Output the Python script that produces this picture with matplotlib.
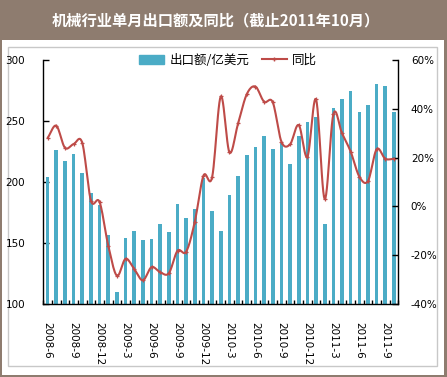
import numpy as np
import matplotlib
matplotlib.use("Agg")
import matplotlib.pyplot as plt
from matplotlib.patches import Rectangle
from matplotlib.lines import Line2D
from matplotlib.ticker import FuncFormatter, FixedLocator

plt.rcParams['font.family'] = ['DejaVu Sans', 'Noto Sans CJK SC']

# ---------------- data ----------------
months = []
for y in range(2008, 2012):
    for m in range(1, 13):
        if (y, m) >= (2008, 6) and (y, m) <= (2011, 10):
            months.append(f"{y}-{m}")

export_value = [204, 226, 217, 223, 207.5, 191, 181, 156.6, 110, 154,
                160, 152.5, 153.6, 165.6, 159, 182, 170.5, 177.8, 203, 176.5,
                160, 189.3, 204.8, 222, 228.5, 237.4, 226.8, 232.3, 214.8, 237.4,
                248.9, 253.2, 165.6, 260.3, 267.9, 274.4, 257, 262.8, 279.9, 278.3,
                257]
yoy_pct = [28, 33, 24, 25.5, 26, 2.4, 1.8, -16, -28.3, -21.4,
           -25.6, -30.2, -24.8, -26.9, -27.3, -18.1, -18.5, -6.2, 12.6, 12.0,
           45, 22.1, 34, 45.9, 49, 42.8, 42.6, 26.5, 25.4, 33.3,
           20.3, 43.8, 3.0, 37.7, 29.9, 22.4, 12.2, 10.4, 23.4, 19.5,
           19.5]
title = "机械行业单月出口额及同比（截止2011年10月）"
bar_label = "出口额/亿美元"
line_label = "同比"

# ---------------- figure ----------------
W, H = 447, 377
dpi = 100
fig = plt.figure(figsize=(W / dpi, H / dpi), dpi=dpi)
taupe = "#8E7C6F"
fig.patch.set_facecolor(taupe)

def px_rect(x0, y0, x1, y1, **kw):
    return Rectangle((x0 / W, 1 - y1 / H), (x1 - x0) / W, (y1 - y0) / H,
                     transform=fig.transFigure, **kw)

fig.patches.append(px_rect(2, 40, 444, 375, facecolor="white", edgecolor="none", zorder=-10))
fig.patches.append(px_rect(8, 47, 437, 366, facecolor="none", edgecolor="#C8C8C8", lw=1.0, zorder=-9))

fig.text(216 / W, 1 - 20 / H, title, color="white", fontsize=11, fontweight="bold",
         ha="center", va="center", family=['Noto Sans CJK SC', 'DejaVu Sans'])

left, right = 43.3, 398.3
top, bottom = 59.7, 304.3
ax = fig.add_axes([left / W, 1 - bottom / H, (right - left) / W, (bottom - top) / H])
ax.set_facecolor("none")
ax2 = ax.twinx()

x = np.arange(len(months))
bar_color = "#4BACC6"
line_color = "#BE4B48"

ax.bar(x, export_value, width=0.42, color=bar_color, zorder=2)
ax.set_xlim(-0.5, len(months) - 0.5)
ax.set_ylim(100, 300)
ax.set_yticks([100, 150, 200, 250, 300])

# smooth curve (Catmull-Rom) through the data points
def smooth(xs, ys, n=12):
    xs = np.asarray(xs, float); ys = np.asarray(ys, float)
    px = np.concatenate([[2 * xs[0] - xs[1]], xs, [2 * xs[-1] - xs[-2]]])
    py = np.concatenate([[2 * ys[0] - ys[1]], ys, [2 * ys[-1] - ys[-2]]])
    ox, oy = [], []
    t = np.linspace(0, 1, n, endpoint=False)
    for i in range(1, len(px) - 2):
        for arr, out in ((px, ox), (py, oy)):
            p0, p1, p2, p3 = arr[i - 1], arr[i], arr[i + 1], arr[i + 2]
            out.extend(0.5 * ((2 * p1) + (-p0 + p2) * t + (2 * p0 - 5 * p1 + 4 * p2 - p3) * t ** 2
                              + (-p0 + 3 * p1 - 3 * p2 + p3) * t ** 3))
    ox.append(xs[-1]); oy.append(ys[-1])
    return np.array(ox), np.array(oy)

yoy = np.array(yoy_pct) / 100.0
sx, sy = smooth(x, yoy)
ax2.plot(sx, sy, color=line_color, lw=1.5, zorder=3, solid_capstyle="round")
ax2.plot(x, yoy, ls="none", marker="+", ms=3.5, mew=0.9, color=line_color, zorder=4)
ax2.set_ylim(-0.4, 0.6)
ax2.set_yticks([-0.4, -0.2, 0, 0.2, 0.4, 0.6])
ax2.yaxis.set_major_formatter(FuncFormatter(lambda v, p: f"{int(round(v * 100))}%"))

# ticks / spines
for a in (ax, ax2):
    a.spines["top"].set_visible(False)
    for s in a.spines.values():
        s.set_color("black")
        s.set_linewidth(1.0)
ax2.spines["left"].set_visible(False)
ax2.spines["bottom"].set_visible(False)
ax.spines["right"].set_visible(False)

ax.tick_params(axis="y", direction="in", length=4, width=1, labelsize=7.5, pad=13)
ax2.tick_params(axis="y", direction="in", length=4, width=1, labelsize=7.5, pad=9)

label_pos = [i for i in range(len(months)) if i % 3 == 0]
ax.set_xticks(label_pos)
ax.set_xticklabels([months[i] for i in label_pos], rotation=-90, fontsize=7.5)
ax.tick_params(axis="x", which="major", length=0, pad=13)
ax.xaxis.set_minor_locator(FixedLocator(np.arange(-0.5, len(months), 1.0)))
ax.tick_params(axis="x", which="minor", direction="in", length=3, width=1)
for lab in ax.get_xticklabels():
    lab.set_va("top")
    lab.set_ha("center")

handles = [Rectangle((0, 0), 1, 1, color=bar_color),
           Line2D([0], [0], color=line_color, lw=1.5, marker="+", ms=3.5)]
fig.legend(handles, [bar_label, line_label], loc="center",
           bbox_to_anchor=(228 / W, 1 - 60 / H), ncol=2, frameon=False,
           handlelength=2.0, handleheight=0.7, columnspacing=1.0,
           handletextpad=0.4, prop={'family': ['Noto Sans CJK SC', 'DejaVu Sans'], 'size': 9})

fig.savefig("out.png", dpi=dpi, facecolor=fig.get_facecolor())
